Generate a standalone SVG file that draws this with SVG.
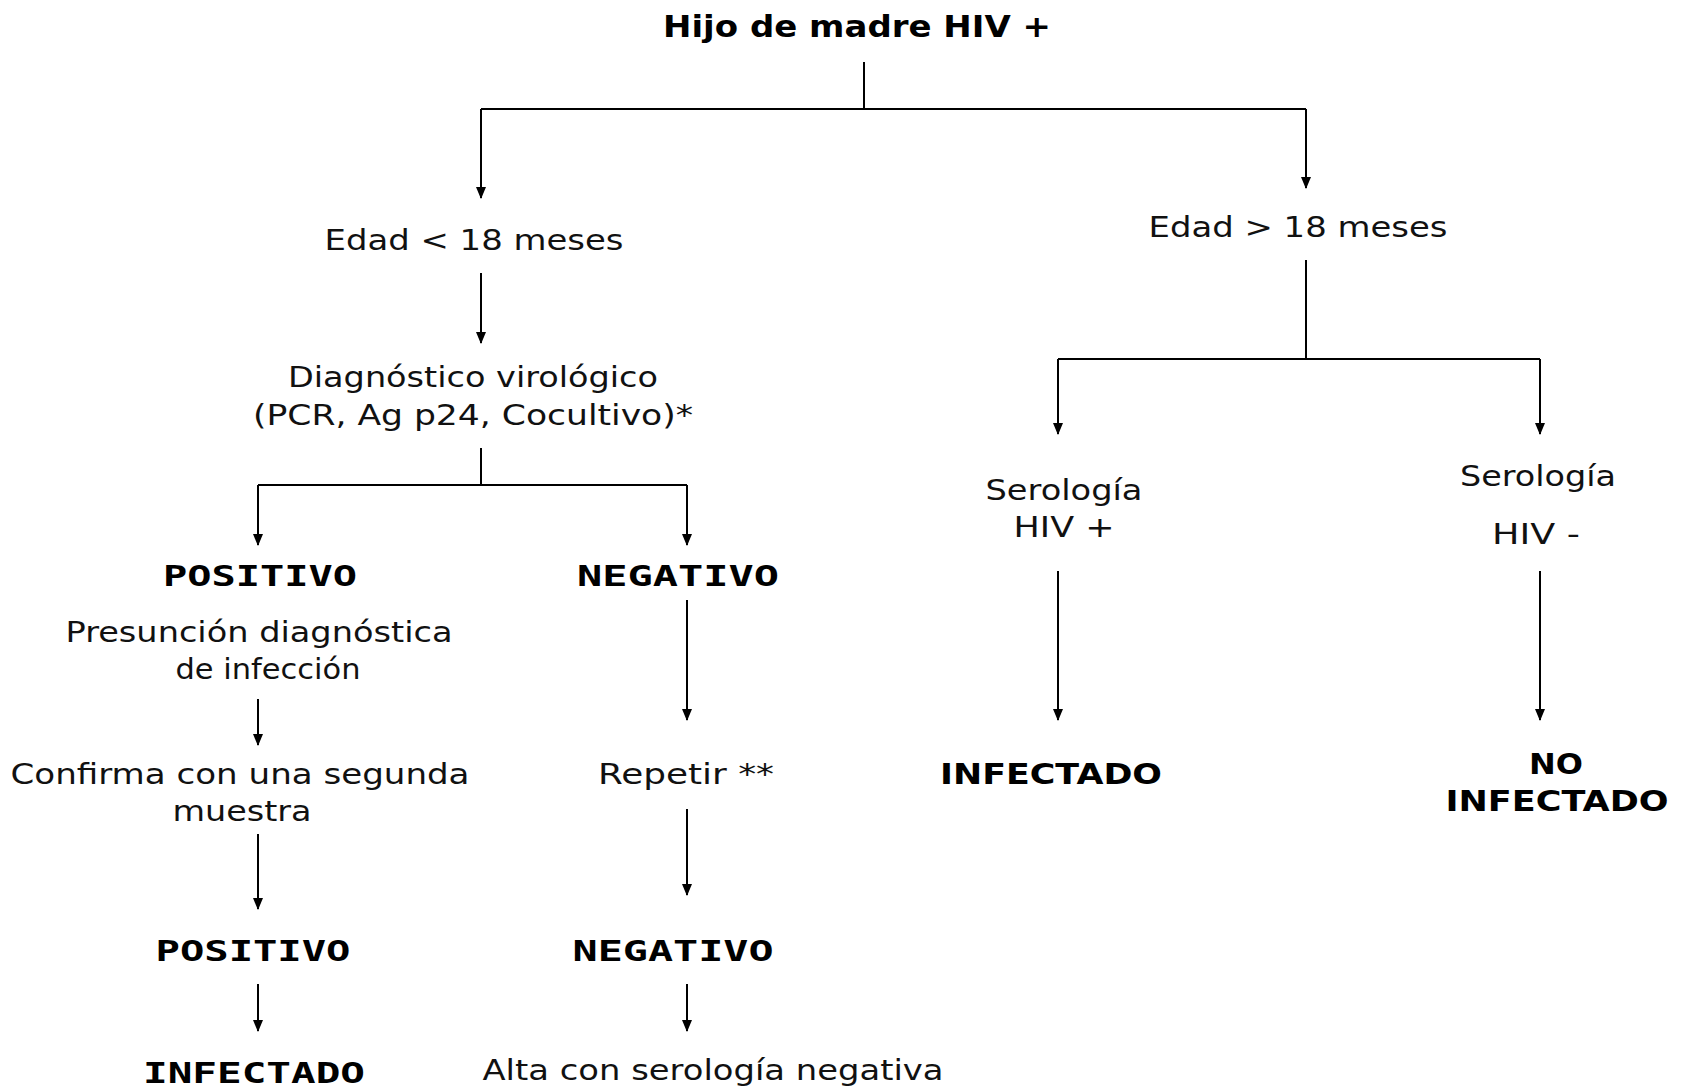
<svg xmlns="http://www.w3.org/2000/svg" width="1681" height="1087" viewBox="0 0 1681 1087">
<defs>
<marker id="ah" markerUnits="userSpaceOnUse" markerWidth="12" markerHeight="12" viewBox="0 -6 12 12" refX="11" refY="0" orient="auto">
<path d="M0,-5 L12,0 L0,5 z" fill="#000"/>
</marker>
<style>
.t{font-family:"DejaVu Sans",Verdana,sans-serif;font-size:29px;fill:#111;text-anchor:middle}
.b{font-family:"DejaVu Sans",Verdana,sans-serif;font-size:28px;font-weight:bold;fill:#000;text-anchor:middle}
.h{font-family:"DejaVu Sans",Verdana,sans-serif;font-size:31px;font-weight:bold;fill:#000;text-anchor:middle}
.m{font-family:"DejaVu Sans Mono","Liberation Mono",monospace;font-size:28px;font-weight:bold;fill:#000;text-anchor:middle}
.c{fill:none;stroke:#000;stroke-width:2}
.a{marker-end:url(#ah)}
</style>
</defs>
<rect width="1681" height="1087" fill="#fff"/>
<g id="connectors">
<path class="c" d="M864 62 V109 M481 109 H1306"/>
<path class="c a" d="M481 109 V198"/>
<path class="c a" d="M1306 109 V188"/>
<path class="c a" d="M481 273 V343"/>
<path class="c" d="M481 448 V485 M258 485 H687"/>
<path class="c a" d="M258 485 V545"/>
<path class="c a" d="M687 485 V545"/>
<path class="c a" d="M687 600 V720"/>
<path class="c a" d="M258 699 V745"/>
<path class="c a" d="M258 834 V909"/>
<path class="c a" d="M687 809 V895"/>
<path class="c a" d="M258 984 V1031"/>
<path class="c a" d="M687 984 V1031"/>
<path class="c" d="M1306 260 V359 M1058 359 H1540"/>
<path class="c a" d="M1058 359 V434"/>
<path class="c a" d="M1540 359 V434"/>
<path class="c a" d="M1058 571 V720"/>
<path class="c a" d="M1540 571 V720"/>
</g>
<g id="root"><text class="h" x="857" y="37" textLength="388" lengthAdjust="spacingAndGlyphs">Hijo de madre HIV +</text></g>
<g id="edad-menor"><text class="t" x="474" y="250" textLength="299" lengthAdjust="spacingAndGlyphs">Edad &lt; 18 meses</text></g>
<g id="edad-mayor"><text class="t" x="1298" y="237" textLength="299" lengthAdjust="spacingAndGlyphs">Edad &gt; 18 meses</text></g>
<g id="diagnostico">
<text class="t" x="473" y="387" textLength="370" lengthAdjust="spacingAndGlyphs">Diagnóstico virológico</text>
<text class="t" x="473" y="425" textLength="440" lengthAdjust="spacingAndGlyphs">(PCR, Ag p24, Cocultivo)*</text>
</g>
<g id="positivo1"><text class="m" x="260" y="586" textLength="194" lengthAdjust="spacingAndGlyphs">POSITIVO</text></g>
<g id="negativo1"><text class="m" x="678" y="586" textLength="202" lengthAdjust="spacingAndGlyphs">NEGATIVO</text></g>
<g id="presuncion">
<text class="t" x="259" y="642" textLength="387" lengthAdjust="spacingAndGlyphs">Presunción diagnóstica</text>
<text class="t" x="268" y="679" textLength="185" lengthAdjust="spacingAndGlyphs">de infección</text>
</g>
<g id="confirma">
<text class="t" x="240" y="784" textLength="459" lengthAdjust="spacingAndGlyphs">Confirma con una segunda</text>
<text class="t" x="242" y="821" textLength="139" lengthAdjust="spacingAndGlyphs">muestra</text>
</g>
<g id="repetir"><text class="t" x="686" y="784" textLength="176" lengthAdjust="spacingAndGlyphs">Repetir **</text></g>
<g id="positivo2"><text class="m" x="253" y="961" textLength="195" lengthAdjust="spacingAndGlyphs">POSITIVO</text></g>
<g id="negativo2"><text class="m" x="673" y="961" textLength="201" lengthAdjust="spacingAndGlyphs">NEGATIVO</text></g>
<g id="infectado1"><text class="m" x="254" y="1083" textLength="222" lengthAdjust="spacingAndGlyphs">INFECTADO</text></g>
<g id="alta"><text class="t" x="713" y="1080" textLength="461" lengthAdjust="spacingAndGlyphs">Alta con serología negativa</text></g>
<g id="serologia-pos">
<text class="t" x="1064" y="500" textLength="157" lengthAdjust="spacingAndGlyphs">Serología</text>
<text class="t" x="1064" y="537" textLength="101" lengthAdjust="spacingAndGlyphs">HIV +</text>
</g>
<g id="serologia-neg">
<text class="t" x="1538" y="486" textLength="156" lengthAdjust="spacingAndGlyphs">Serología</text>
<text class="t" x="1536" y="544" textLength="88" lengthAdjust="spacingAndGlyphs">HIV -</text>
</g>
<g id="infectado2"><text class="b" x="1051" y="784" textLength="222" lengthAdjust="spacingAndGlyphs">INFECTADO</text></g>
<g id="no-infectado">
<text class="b" x="1556" y="774" textLength="54" lengthAdjust="spacingAndGlyphs">NO</text>
<text class="b" x="1557" y="811" textLength="223" lengthAdjust="spacingAndGlyphs">INFECTADO</text>
</g>
</svg>
